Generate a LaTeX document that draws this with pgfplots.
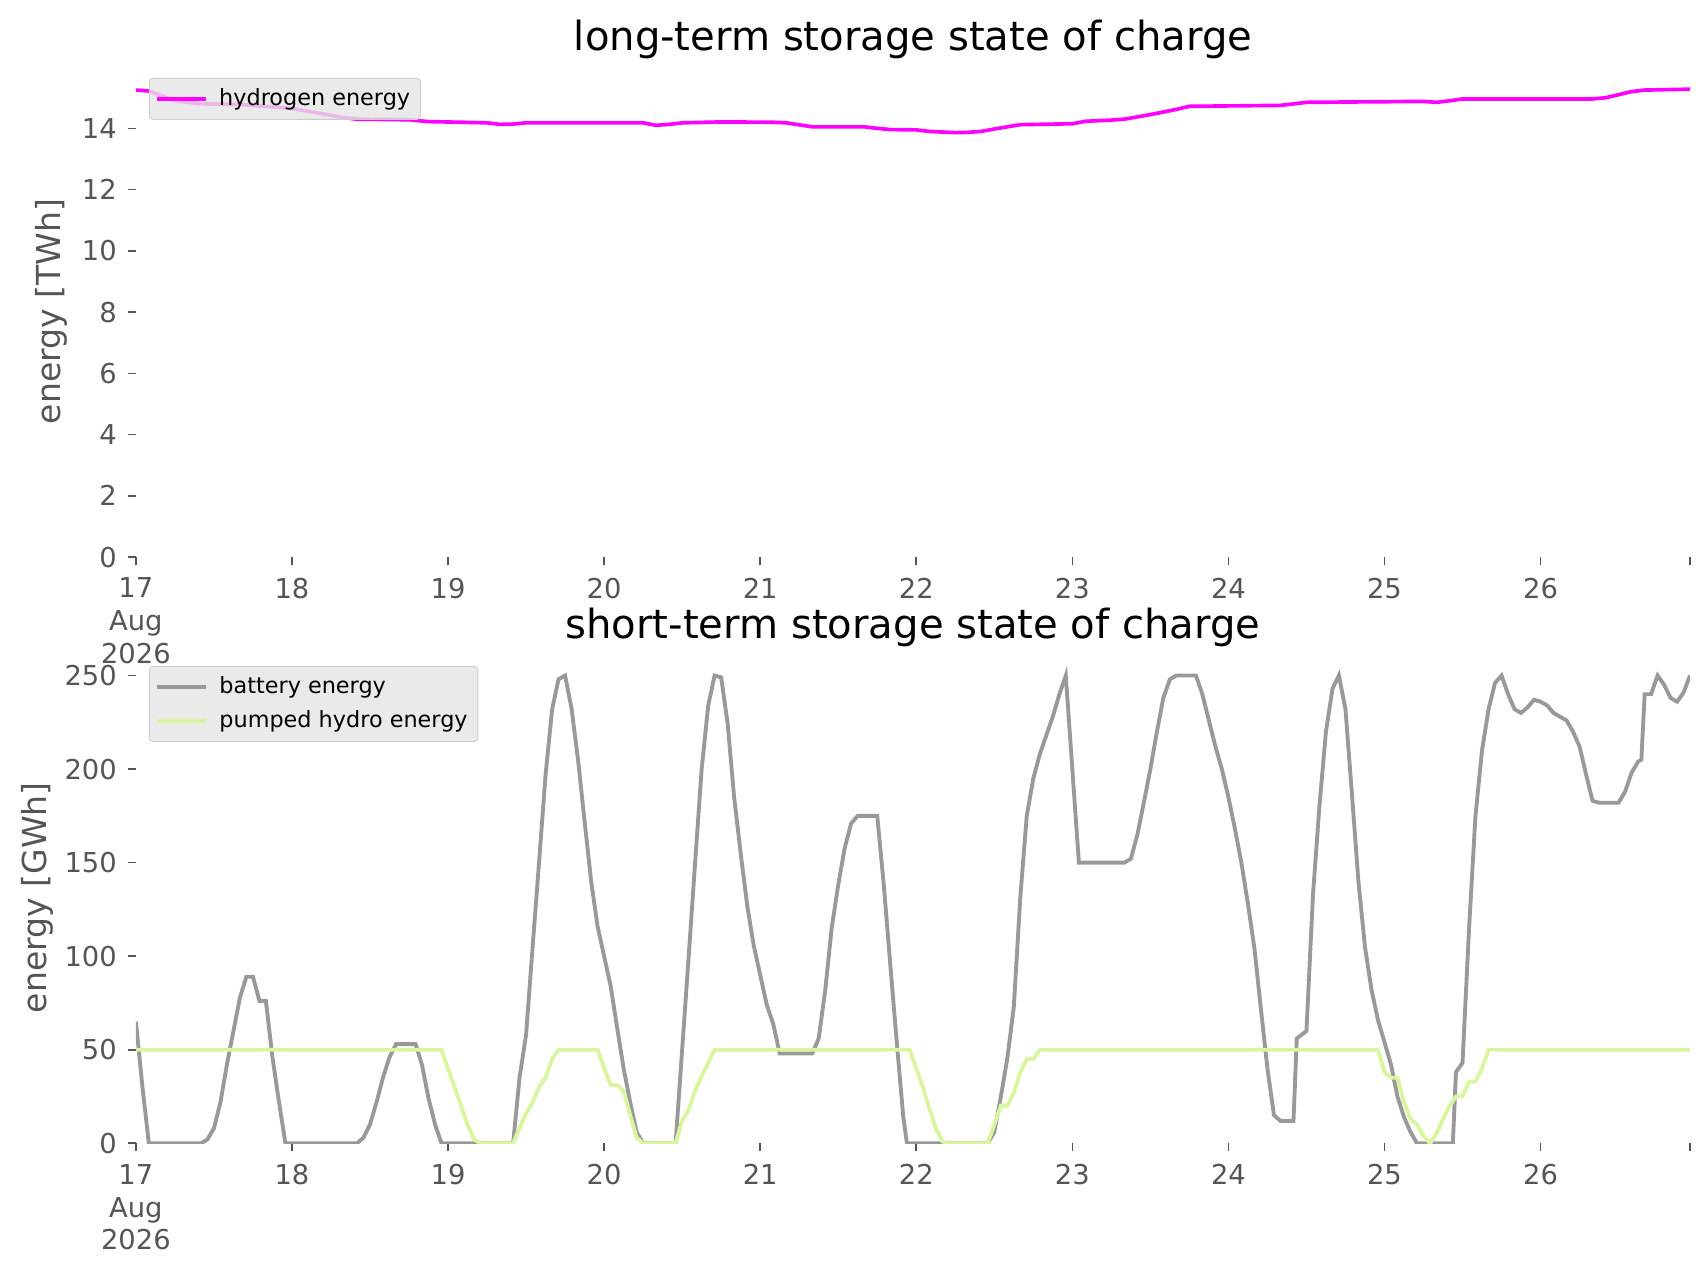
\documentclass[border=0pt]{standalone}
\usepackage{fontspec}
\setmainfont{DejaVu Sans}
\usepackage{pgfplots}
\pgfplotsset{compat=1.18}
\definecolor{tickgray}{HTML}{555555}
\definecolor{batt}{HTML}{999999}
\definecolor{phs}{HTML}{D9F5A0}
\definecolor{hyd}{HTML}{FF00FF}
\definecolor{legfill}{HTML}{E5E5E5}
\definecolor{legdraw}{HTML}{CCCCCC}

\pgfplotsset{
  mystyle/.style={
    scale only axis, width=681.6pt, height=215.4pt,
    xmin=17, xmax=26.958, ymin=0,
    axis line style={draw=none},
    tick align=outside, tick pos=left,
    major tick length=3.6pt,
    every tick/.style={tickgray, line width=0.7pt},
    xtick={17,...,26},
    xticklabels={{17\\Aug\\2026},18,19,20,21,22,23,24,25,26},
    extra x ticks={26.958}, extra x tick labels={},
    xticklabel style={align=center, anchor=north, inner sep=0pt, yshift=-5.4pt,
      font=\fontsize{12}{14.4}\selectfont, text=tickgray},
    yticklabel style={anchor=east, inner sep=0pt, xshift=-4.6pt,
      font=\fontsize{12}{14.4}\selectfont, text=tickgray},
    /pgf/number format/assume math mode=true,
    ylabel style={anchor=center, font=\fontsize{14.5}{17}\selectfont, text=tickgray},
    title style={at={(0.5,1)}, anchor=center, font=\fontsize{17.6}{21}\selectfont},
    legend cell align=left,
    legend image code/.code={\draw[##1] (0pt,0pt) -- (21.5pt,0pt); \path (24.5pt,0pt);},
    legend style={anchor=north west, fill=legfill, fill opacity=0.8, draw opacity=1,
      text opacity=1, draw=legdraw, rounded corners=1.5pt,
      font=\fontsize{9.8}{12}\selectfont, inner xsep=2.5pt, inner ysep=2.5pt,
      row sep=2pt},
  }
}

\begin{document}
\begin{tikzpicture}
\useasboundingbox (-59.6pt,-58.8pt) rectangle (688.6pt,501.4pt);

% ---------- top: long-term ----------
\begin{axis}[mystyle, at={(0pt,257.1pt)}, anchor=south west,
  ymax=16.04, ytick={0,2,...,14},
  title={long-term storage state of charge}, title style={yshift=5.6pt},
  ylabel={energy [TWh]}, ylabel style={at={(axis description cs:-0.0541,0.5)}},
  legend style={at={(0.0084,0.9754)}}]
\addplot[hyd, line width=1.6pt] coordinates {
(17.0,15.25) (17.083,15.22) (17.25,14.9) (17.417,14.8) (17.667,14.78) (17.875,14.7)
(18.0,14.65) (18.167,14.5) (18.333,14.35) (18.417,14.3) (18.75,14.28) (18.875,14.22)
(19.083,14.2) (19.25,14.18) (19.333,14.13) (19.417,14.14) (19.5,14.18) (20.25,14.18)
(20.333,14.1) (20.417,14.13) (20.5,14.18) (20.75,14.21) (21.083,14.2) (21.167,14.18)
(21.333,14.05) (21.667,14.05) (21.75,14.0) (21.833,13.96) (22.0,13.95) (22.083,13.9)
(22.25,13.86) (22.333,13.87) (22.417,13.9) (22.5,13.98) (22.667,14.12) (23.0,14.15)
(23.083,14.23) (23.25,14.27) (23.333,14.3) (23.5,14.45) (23.667,14.62) (23.75,14.72)
(24.333,14.75) (24.417,14.8) (24.5,14.85) (25.25,14.88) (25.333,14.85) (25.417,14.9)
(25.5,14.96) (26.333,14.96) (26.417,15.0) (26.5,15.1) (26.583,15.2) (26.667,15.25)
(26.958,15.28)
};
\addlegendentry{hydrogen energy}
\end{axis}

% ---------- bottom: short-term ----------
\begin{axis}[mystyle, at={(0pt,0pt)}, anchor=south west,
  ymax=262.5, ytick={0,50,...,250},
  title={short-term storage state of charge}, title style={yshift=5.0pt},
  ylabel={energy [GWh]}, ylabel style={at={(axis description cs:-0.0631,0.5)}},
  legend style={at={(0.0084,0.9717)}}]
\addplot[batt, line width=1.7pt] coordinates {
(17.000,65) (17.042,30) (17.083,0) (17.417,0) (17.458,2) (17.500,8) (17.542,22)
(17.583,42) (17.625,60) (17.667,78) (17.708,89) (17.750,89) (17.792,76) (17.833,76)
(17.875,46) (17.917,22) (17.958,0) (18.417,0) (18.458,3) (18.500,10) (18.542,22)
(18.583,35) (18.625,46) (18.667,53) (18.792,53) (18.833,42) (18.875,24) (18.917,10)
(18.958,0) (19.417,0) (19.458,35) (19.500,58) (19.542,105) (19.583,150) (19.625,197)
(19.667,232) (19.708,248) (19.750,250) (19.792,232) (19.833,205) (19.875,172)
(19.917,140) (19.958,116) (20.000,100) (20.042,84) (20.083,62) (20.125,40)
(20.167,22) (20.208,6) (20.250,0) (20.458,0) (20.500,50) (20.542,100) (20.583,150)
(20.625,200) (20.667,234) (20.708,250) (20.750,249) (20.792,224) (20.833,185)
(20.875,155) (20.917,127) (20.958,106) (21.000,90) (21.042,74) (21.083,64)
(21.125,48) (21.333,48) (21.375,56) (21.417,82) (21.458,115) (21.500,138)
(21.542,158) (21.583,171) (21.625,175) (21.750,175) (21.792,138) (21.833,96)
(21.875,54) (21.917,14) (21.940,0) (22.458,0) (22.500,6) (22.542,25) (22.583,45)
(22.625,73) (22.667,132) (22.708,175) (22.750,195) (22.792,208) (22.833,218)
(22.875,228) (22.917,240) (22.958,250) (23.000,200) (23.042,150) (23.333,150)
(23.375,152) (23.417,165) (23.458,182) (23.500,200) (23.542,220) (23.583,238)
(23.625,248) (23.667,250) (23.792,250) (23.833,240) (23.875,226) (23.917,212)
(23.958,200) (24.000,185) (24.042,168) (24.083,150) (24.125,128) (24.167,104)
(24.208,72) (24.250,40) (24.292,15) (24.333,12) (24.417,12) (24.438,56) (24.500,60)
(24.542,133) (24.583,180) (24.625,220) (24.667,243) (24.708,250) (24.750,232)
(24.792,186) (24.833,140) (24.875,105) (24.917,82) (24.958,66) (25.000,54)
(25.042,42) (25.083,25) (25.125,14) (25.167,6) (25.208,0) (25.438,0) (25.458,38)
(25.500,43) (25.542,115) (25.583,175) (25.625,210) (25.667,232) (25.708,246)
(25.750,250) (25.792,240) (25.833,232) (25.875,230) (25.917,233) (25.958,237)
(26.000,236) (26.042,234) (26.083,230) (26.125,228) (26.167,226) (26.208,220)
(26.250,212) (26.292,197) (26.333,183) (26.375,182) (26.500,182) (26.542,188)
(26.583,198) (26.625,204) (26.646,205) (26.667,240) (26.708,240) (26.750,250)
(26.792,245) (26.833,238) (26.875,236) (26.917,241) (26.958,250)
};
\addlegendentry{battery energy}
\addplot[phs, line width=1.7pt] coordinates {
(17.000,50) (18.958,50) (19.000,40) (19.042,30) (19.083,20) (19.125,10) (19.167,2)
(19.208,0) (19.417,0) (19.458,8) (19.500,16) (19.542,22) (19.583,30) (19.625,35)
(19.667,45) (19.708,50) (19.958,50) (20.042,31) (20.083,31) (20.125,28) (20.167,15)
(20.208,3) (20.250,0) (20.458,0) (20.500,12) (20.542,18) (20.583,28) (20.625,36)
(20.667,43) (20.708,50) (21.958,50) (22.000,40) (22.042,30) (22.083,19) (22.125,8)
(22.167,1) (22.208,0) (22.458,0) (22.500,10) (22.542,20) (22.583,20) (22.625,27)
(22.667,38) (22.708,45) (22.750,45) (22.792,50) (24.958,50) (25.000,38) (25.042,35)
(25.083,35) (25.125,22) (25.167,13) (25.208,10) (25.250,4) (25.292,0) (25.333,5)
(25.375,13) (25.417,20) (25.458,25) (25.500,25) (25.542,33) (25.583,33) (25.625,40)
(25.667,50) (26.958,50)
};
\addlegendentry{pumped hydro energy}
\end{axis}
\end{tikzpicture}
\end{document}
